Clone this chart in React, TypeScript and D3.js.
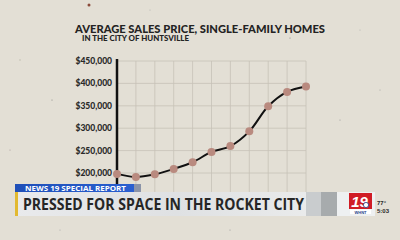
import React from "react";
import * as d3 from "d3";

const periods = ["1", "2", "3", "4", "5", "6", "7", "8", "9", "10", "11"];
const avgPrice = [198000, 191000, 197000, 209000, 224000, 247000, 260000, 293000, 349000, 381000, 393000];
const yTicks = [200000, 250000, 300000, 350000, 400000, 450000];
const gridTicks = [150000, 200000, 250000, 300000, 350000, 400000, 450000];

const title = "AVERAGE SALES PRICE, SINGLE-FAMILY HOMES";
const subtitle = "IN THE CITY OF HUNTSVILLE";
const kicker = "NEWS 19 SPECIAL REPORT";
const headline = "PRESSED FOR SPACE IN THE ROCKET CITY";

export default function App() {
  const W = 400, H = 240;
  const x = d3.scalePoint<string>().domain(periods).range([117, 306]);
  const y = d3.scaleLinear().domain([200000, 450000]).range([173, 61]);
  const fmt = d3.format("$,");
  const line = d3
    .line<number>()
    .x((_, i) => x(periods[i]) as number)
    .y((d) => y(d))
    .curve(d3.curveCatmullRom.alpha(0.5));

  const specks = [
    [89, 5, "#8a4a3a", 1.5], [290, 38, "#888", 0.6], [52, 100, "#777", 0.5], [340, 120, "#999", 0.6],
    [20, 60, "#bba", 0.7], [380, 90, "#999", 0.5], [175, 200, "#888", 0.5], [230, 230, "#999", 0.6],
    [60, 230, "#aaa", 0.6], [360, 30, "#aaa", 0.5], [150, 10, "#aaa", 0.5], [10, 150, "#a99", 0.6],
  ] as const;

  return (
    <svg width={W} height={H} style={{ position: "absolute", left: 0, top: 0 }}>
      <defs>
        <linearGradient id="bar" x1="0" x2="1" y1="0" y2="0">
          <stop offset="0" stopColor="#e9eaec" />
          <stop offset="0.5" stopColor="#dfe1e3" />
          <stop offset="1" stopColor="#eceded" />
        </linearGradient>
        <linearGradient id="blue" x1="0" x2="1">
          <stop offset="0" stopColor="#1f4fb8" />
          <stop offset="1" stopColor="#2a5fd0" />
        </linearGradient>
      </defs>
      <rect width={W} height={H} fill="#e3dfd5" />
      {specks.map(([sx, sy, c, r], i) => (
        <circle key={i} cx={sx} cy={sy} r={r} fill={c} />
      ))}

      <text x={75} y={33} textLength={250} lengthAdjust="spacingAndGlyphs"
        fontFamily="Lato, sans-serif" fontWeight={900} fontSize={11} fill="#232323">{title}</text>
      <text x={82} y={41} textLength={107} lengthAdjust="spacingAndGlyphs"
        fontFamily="Lato, sans-serif" fontWeight={900} fontSize={6.5} fill="#232323">{subtitle}</text>

      {gridTicks.map((t) => (
        <line key={"h" + t} x1={117} x2={306} y1={y(t)} y2={y(t)} stroke="#c6c2b8" strokeWidth={0.8} />
      ))}
      {periods.map((p) => (
        <line key={"v" + p} x1={x(p)} x2={x(p)} y1={y(450000)} y2={200} stroke="#c6c2b8" strokeWidth={0.8} />
      ))}
      <line x1={117} x2={117} y1={59} y2={200} stroke="#111" strokeWidth={2.5} />
      {yTicks.map((t) => (
        <text key={"l" + t} x={112} y={y(t) + 3} textAnchor="end" fontFamily="Lato, sans-serif"
          fontWeight={900} fontSize={8.5} fill="#2a2a2a">{fmt(t)}</text>
      ))}

      <path d={line(avgPrice) ?? ""} fill="none" stroke="#111" strokeWidth={2} />
      {avgPrice.map((v, i) => (
        <circle key={"p" + i} cx={x(periods[i])} cy={y(v)} r={4} fill="#b98a7f" />
      ))}

      <rect x={15} y={184} width={119} height={8.5} fill="url(#blue)" />
      <rect x={134} y={184} width={7} height={8.5} fill="#8a93a8" />
      <text x={25} y={190.5} textLength={101} lengthAdjust="spacingAndGlyphs" fontFamily="'Open Sans', sans-serif"
        fontWeight={700} fontSize={6.5} fill="#ffffff">{kicker}</text>
      <rect x={15} y={192} width={322} height={24} fill="url(#bar)" />
      <rect x={306} y={192} width={15} height={24} fill="#c9ccce" />
      <rect x={321} y={192} width={16} height={24} fill="#a7abad" />
      <rect x={337} y={192} width={38} height={24} fill="#eef0f1" />
      <rect x={15} y={192} width={3} height={24} fill="#e2b930" />
      <text x={23} y={209.5} textLength={281} lengthAdjust="spacingAndGlyphs" fontFamily="'Open Sans', sans-serif"
        fontWeight={700} fontSize={16} fill="#262626">{headline}</text>

      <rect x={349} y={193} width={23} height={16} fill="#d01c25" />
      <text x={359.5} y={207} textAnchor="middle" fontFamily="'Liberation Sans', sans-serif" fontStyle="italic"
        fontWeight={700} fontSize={15} fill="#ffffff">19</text>
      <circle cx={366} cy={205} r={2.6} fill="#ffffff" stroke="#1d3e8a" strokeWidth={0.8} />
      <rect x={350} y={209.5} width={21} height={4.5} fill="#ffffff" />
      <text x={360.5} y={214} textAnchor="middle" fontFamily="'Liberation Sans', sans-serif" fontWeight={700}
        fontSize={4} fill="#1d3e8a">WHNT</text>
      <text x={377} y={205} fontFamily="'Liberation Sans', sans-serif" fontWeight={700} fontSize={6} fill="#2a2a2a">77°</text>
      <text x={377} y={213} fontFamily="'Liberation Sans', sans-serif" fontWeight={700} fontSize={6} fill="#2a2a2a">5:03</text>
    </svg>
  );
}
